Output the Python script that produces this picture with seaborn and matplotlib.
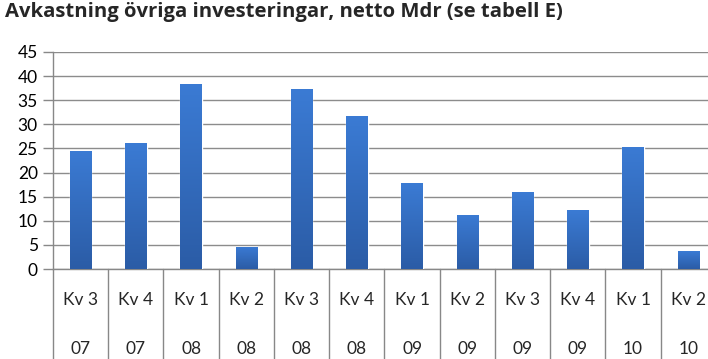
import matplotlib
matplotlib.use("Agg")
import matplotlib.pyplot as plt
import seaborn as sns
import numpy as np
import pandas as pd
from matplotlib.colors import LinearSegmentedColormap

quarters = ["Kv 3", "Kv 4", "Kv 1", "Kv 2", "Kv 3", "Kv 4", "Kv 1", "Kv 2", "Kv 3", "Kv 4", "Kv 1", "Kv 2"]
years = ["07", "07", "08", "08", "08", "08", "09", "09", "09", "09", "10", "10"]
values = [24.5, 26.1, 38.4, 4.6, 37.3, 31.7, 17.8, 11.2, 16.0, 12.2, 25.3, 3.7]
yticks = [0, 5, 10, 15, 20, 25, 30, 35, 40, 45]
title = "Avkastning övriga investeringar, netto Mdr (se tabell E)"

sns.set_theme(style="white")
plt.rcParams['font.family'] = ['Lato', 'DejaVu Sans']

W, H = 708, 359
fig = plt.figure(figsize=(W / 100, H / 100), dpi=100)
ax = fig.add_axes([53 / W, 90 / H, 663 / W, 217 / H])

df = pd.DataFrame({"idx": [str(i) for i in range(len(values))], "v": values})
sns.barplot(data=df, x="idx", y="v", ax=ax, width=0.39, color="#3469BA", saturation=1, zorder=3)

ax.set_ylim(0, 45)
ax.set_xlim(-0.5, len(values) - 0.5)
ax.set_yticks(yticks)
ax.set_yticklabels([str(t) for t in yticks], fontsize=12.5, color="#000000")
ax.set_xticks([])
ax.set_xlabel("")
ax.set_ylabel("")
ax.tick_params(axis="y", length=7, width=1, color="#888888", pad=4, left=True)
ax.grid(axis="y", color="#8c8c8c", linewidth=1, zorder=0)
for s in ["top", "right"]:
    ax.spines[s].set_visible(False)
ax.spines["left"].set_color("#888888")
ax.spines["bottom"].set_color("#888888")
ax.spines["left"].set_linewidth(1)
ax.spines["bottom"].set_linewidth(1)

# gradient fill in bars
cmap = LinearSegmentedColormap.from_list("g", ["#2B5CA6", "#3B7BD4"])
grad = np.linspace(0, 1, 256).reshape(-1, 1)
for p in ax.patches:
    x0, y0 = p.get_x(), p.get_y()
    w, h = p.get_width(), p.get_height()
    im = ax.imshow(grad, extent=[x0, x0 + w, y0, y0 + h], origin="lower", aspect="auto",
                   cmap=cmap, zorder=3.5)
    im.set_clip_path(p)
ax.set_xlim(-0.5, len(values) - 0.5)
ax.set_ylim(0, 45)

# category separators extending below axis
trans = ax.get_xaxis_transform()
for i in range(len(values) + 1):
    ax.plot([i - 0.5, i - 0.5], [0, -0.5], transform=trans, color="#888888", lw=1, clip_on=False)

for i, (q, yr) in enumerate(zip(quarters, years)):
    ax.text(i, (300 - 269) / -217.0, q, transform=trans, ha="center", va="center", fontsize=12.5)
    ax.text(i, (349 - 269) / -217.0, yr, transform=trans, ha="center", va="center", fontsize=12.5)

fig.text(5 / W, 1 - 12 / H, title, fontsize=14.6, fontweight="bold", ha="left", va="center",
         family=["Open Sans", "DejaVu Sans"])

fig.savefig("out.png", dpi=100)
